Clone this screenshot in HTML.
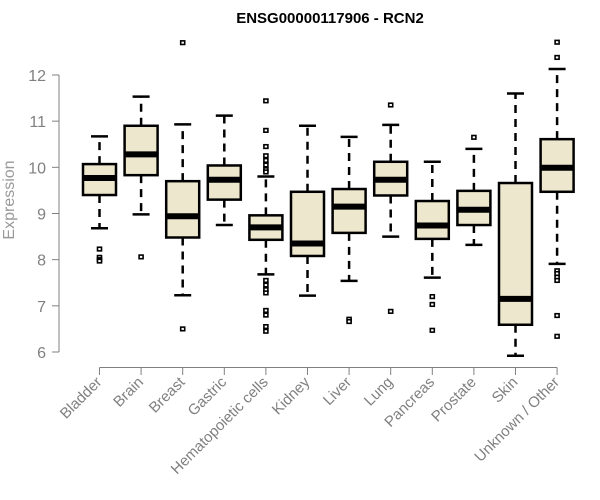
<!DOCTYPE html>
<html><head><meta charset="utf-8">
<style>
html,body{margin:0;padding:0;background:#fff;}
svg{display:block;font-family:"Liberation Sans",Arial,sans-serif;}
</style></head>
<body>
<svg id="chart" width="600" height="500" viewBox="0 0 600 500" xmlns="http://www.w3.org/2000/svg">
<text x="330" y="23" text-anchor="middle" font-size="15" font-weight="bold" fill="#000">ENSG00000117906 - RCN2</text>
<text x="0" y="0" transform="translate(14,200) rotate(-90)" text-anchor="middle" font-size="16" fill="#999">Expression</text>
<g id="axes"></g>
<g id="boxes"></g>
</svg>
<script>
const categories = ["Bladder","Brain","Breast","Gastric","Hematopoietic cells","Kidney","Liver","Lung","Pancreas","Prostate","Skin","Unknown / Other"];
const whiskerLow  = [8.68, 8.98, 7.23, 8.75, 7.68, 7.22, 7.54, 8.50, 7.61, 8.32, 5.92, 7.91];
const q1          = [9.40, 9.83, 8.48, 9.30, 8.43, 8.08, 8.58, 9.39, 8.45, 8.75, 6.59, 9.47];
const medians     = [9.77, 10.28, 8.94, 9.73, 8.70, 8.35, 9.15, 9.73, 8.74, 9.08, 7.15, 9.99];
const q3          = [10.07, 10.90, 9.70, 10.04, 8.96, 9.47, 9.53, 10.12, 9.27, 9.49, 9.66, 10.61];
const whiskerHigh = [10.67, 11.53, 10.93, 11.12, 9.80, 10.90, 10.66, 10.92, 10.12, 10.40, 11.60, 12.13];
const outliers = [
  [8.23, 8.05, 8.0, 7.97],
  [8.06],
  [12.7, 6.5],
  [],
  [11.44, 10.8, 10.45, 10.25, 10.15, 10.05, 9.95, 9.9, 7.55, 7.45, 7.35, 7.28, 6.9, 6.8, 6.55, 6.45],
  [],
  [6.71, 6.66],
  [11.35, 6.88],
  [7.2, 7.03, 6.47],
  [10.65],
  [],
  [12.71, 12.38, 7.76, 7.7, 7.62, 7.55, 6.79, 6.34]
];
const yTicks = [6, 7, 8, 9, 10, 11, 12];

const NS = "http://www.w3.org/2000/svg";
function y(v){ return 352 - (v - 6) * 46.17; }
function x(i){ return 99.5 + i * 41.6; }
function mk(tag, attrs, parent){
  const e = document.createElementNS(NS, tag);
  for (const k in attrs) e.setAttribute(k, attrs[k]);
  parent.appendChild(e);
  return e;
}
const axes = document.getElementById("axes");
const boxes = document.getElementById("boxes");
const grey = "#808080";

const ya = mk("line", {x1:59, x2:59, y1:y(12), y2:y(6), stroke:grey, "stroke-width":1}, axes);


yTicks.forEach(t => {
  const tl = mk("line", {x1:52, x2:59, y1:y(t), y2:y(t), stroke:grey, "stroke-width":1}, axes);
  
  
  const tx = mk("text", {x:46, y:y(t)+6, "text-anchor":"end", "font-size":"16", fill:grey}, axes);
  tx.textContent = t;
  
  
});
const xa = mk("line", {x1:x(0), x2:x(categories.length-1), y1:367.5, y2:367.5, stroke:grey, "stroke-width":1}, axes);


categories.forEach((c, i) => {
  const tl = mk("line", {x1:x(i), x2:x(i), y1:367.5, y2:375, stroke:grey, "stroke-width":1}, axes);
  
  
  const tx = mk("text", {x:0, y:0, "text-anchor":"end", "font-size":"15", fill:grey,
    transform:"translate(" + (x(i)+3) + ",383) rotate(-45)"}, axes);
  tx.textContent = c;
  
  
});

const hw = 16.5;
categories.forEach((c, i) => {
  const g = mk("g", {}, boxes);
  
  
  const cx = x(i);
  mk("line", {x1:cx, x2:cx, y1:y(q3[i]), y2:y(whiskerHigh[i]), stroke:"#000", "stroke-width":2.5, "stroke-dasharray":"8,6"}, g);
  mk("line", {x1:cx, x2:cx, y1:y(q1[i]), y2:y(whiskerLow[i]), stroke:"#000", "stroke-width":2.5, "stroke-dasharray":"8,6"}, g);
  mk("line", {x1:cx-8.5, x2:cx+8.5, y1:y(whiskerHigh[i]), y2:y(whiskerHigh[i]), stroke:"#000", "stroke-width":2.5}, g);
  mk("line", {x1:cx-8.5, x2:cx+8.5, y1:y(whiskerLow[i]), y2:y(whiskerLow[i]), stroke:"#000", "stroke-width":2.5}, g);
  mk("rect", {x:cx-hw, y:y(q3[i]), width:hw*2, height:y(q1[i])-y(q3[i]), fill:"#ede7cd", stroke:"#000", "stroke-width":2.5}, g);
  mk("line", {x1:cx-hw, x2:cx+hw, y1:y(medians[i]), y2:y(medians[i]), stroke:"#000", "stroke-width":6}, g);
  outliers[i].forEach(o => {
    const p = mk("rect", {x:cx-2, y:y(o)-1.8, width:4, height:3.6, fill:"#fff", stroke:"#000", "stroke-width":1.6}, g);
    
    
  });
});
</script>
</body></html>
